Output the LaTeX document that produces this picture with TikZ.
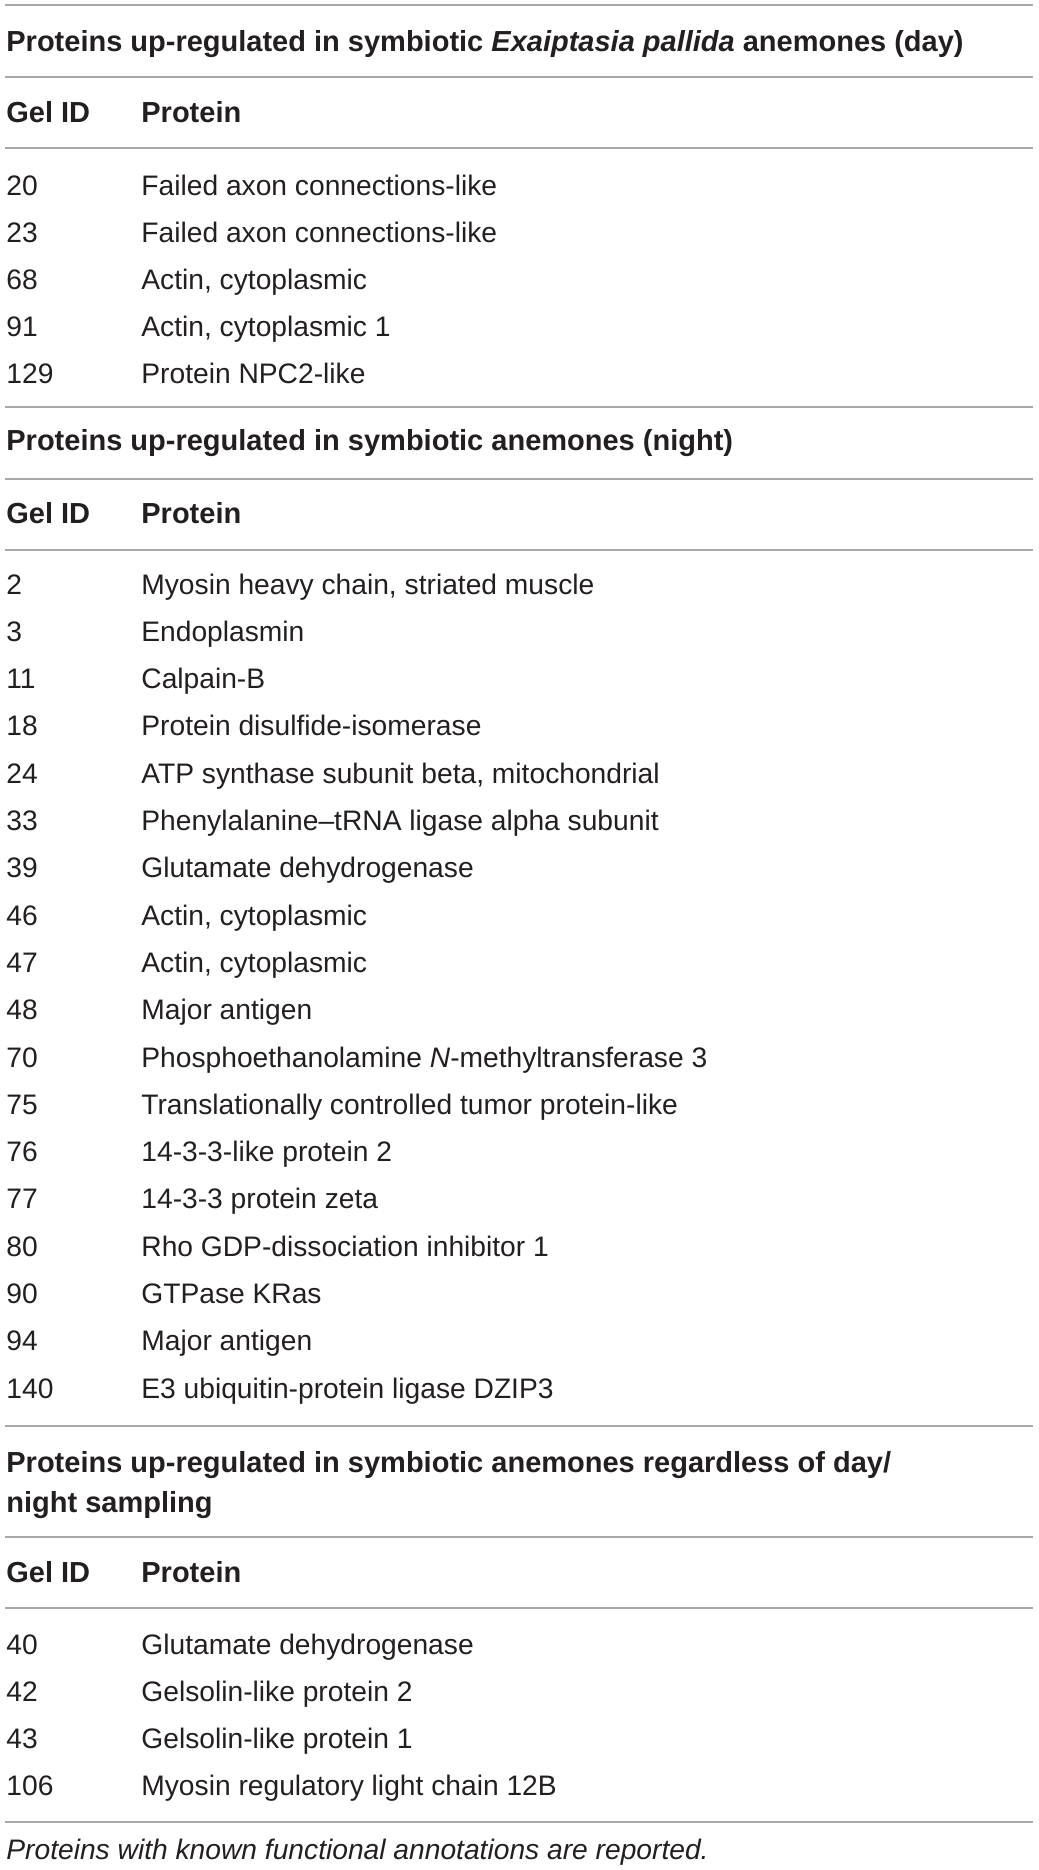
\documentclass[tikz,border=0pt]{standalone}
\usepackage{fontspec}
\setmainfont{Liberation Sans}
\usetikzlibrary{positioning}
\definecolor{ink}{HTML}{231F20}
\definecolor{rulegray}{HTML}{A8A8A8}

\begin{document}
\begin{tikzpicture}[x=0.5pt, y=-0.5pt,
    every node/.style = {anchor=base west, inner sep=0pt, text=ink, font=\fontsize{14.1}{20}\selectfont},
    head/.style = {font=\fontsize{14.5}{20}\selectfont\bfseries},
    tablerule/.style = {draw=rulegray, line width=0.8pt}]
  \useasboundingbox (0,0) rectangle (1039,1870);

  % day
  \draw[tablerule] (5,5) -- (1033,5);
  \node[head] (daytitle) at (6,51) {Proteins up-regulated in symbiotic \textit{Exaiptasia pallida} anemones (day)};
  \draw[tablerule] (5,77) -- (1033,77);
  \node[head] (dayid) at (6,122) {Gel ID};
  \node[head] (dayprot) at (141,122) {Protein};
  \draw[tablerule] (5,148) -- (1033,148);
  \foreach \gid/\prot [count=\i] in {20/Failed axon connections-like, 23/Failed axon connections-like,
      68/{Actin, cytoplasmic}, 91/{Actin, cytoplasmic 1}, 129/Protein NPC2-like}
  {
    \pgfmathsetmacro\yy{195+47*(\i-1)}
    \node (day-id-\i) at (6,\yy) {\gid};
    \node (day-p-\i) at (141,\yy) {\prot};
  }

  % night
  \draw[tablerule] (5,407) -- (1033,407);
  \node[head] (nighttitle) at (6,450) {Proteins up-regulated in symbiotic anemones (night)};
  \draw[tablerule] (5,479) -- (1033,479);
  \node[head] (nightid) at (6,523) {Gel ID};
  \node[head] (nightprot) at (141,523) {Protein};
  \draw[tablerule] (5,550) -- (1033,550);
  \foreach \gid/\prot [count=\i] in {2/{Myosin heavy chain, striated muscle}, 3/Endoplasmin, 11/Calpain-B,
      18/Protein disulfide-isomerase, 24/{ATP synthase subunit beta, mitochondrial},
      33/Phenylalanine–tRNA ligase alpha subunit, 39/Glutamate dehydrogenase,
      46/{Actin, cytoplasmic}, 47/{Actin, cytoplasmic}, 48/Major antigen,
      70/{Phosphoethanolamine \textit{N}-methyltransferase 3}, 75/Translationally controlled tumor protein-like,
      76/14-3-3-like protein 2, 77/14-3-3 protein zeta, 80/Rho GDP-dissociation inhibitor 1,
      90/GTPase KRas, 94/Major antigen, 140/E3 ubiquitin-protein ligase DZIP3}
  {
    \pgfmathsetmacro\yy{594+47.3*(\i-1)}
    \node (night-id-\i) at (6,\yy) {\gid};
    \node (night-p-\i) at (141,\yy) {\prot};
  }

  % day and night
  \draw[tablerule] (5,1426) -- (1033,1426);
  \node[head, align=left] (bothtitle) at (6,1512) {Proteins up-regulated in symbiotic anemones regardless of day/\\night sampling};
  \draw[tablerule] (5,1537) -- (1033,1537);
  \node[head] (bothid) at (6,1582) {Gel ID};
  \node[head] (bothprot) at (141,1582) {Protein};
  \draw[tablerule] (5,1608) -- (1033,1608);
  \foreach \gid/\prot [count=\i] in {40/Glutamate dehydrogenase, 42/Gelsolin-like protein 2,
      43/Gelsolin-like protein 1, 106/Myosin regulatory light chain 12B}
  {
    \pgfmathsetmacro\yy{1654+47*(\i-1)}
    \node (both-id-\i) at (6,\yy) {\gid};
    \node (both-p-\i) at (141,\yy) {\prot};
  }
  \draw[tablerule] (5,1822) -- (1033,1822);
  \node[font=\fontsize{14.1}{20}\selectfont\itshape] (note) at (6,1859) {Proteins with known functional annotations are reported.};
\end{tikzpicture}
\end{document}
